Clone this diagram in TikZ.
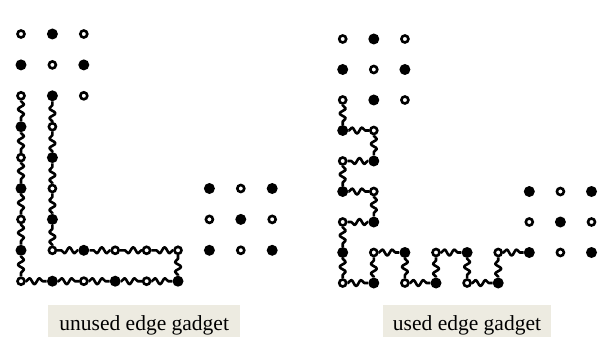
\documentclass[tikz,border=0pt]{standalone}
\usepackage{fontspec}
\setmainfont{Liberation Serif}
\usetikzlibrary{decorations.pathmorphing}
\definecolor{labelbg}{HTML}{EDEBE1}
\tikzset{
  fdot/.style={circle, fill=black, inner sep=0pt, minimum size=11pt},
  odot/.style={circle, draw=black, fill=white, line width=2.6pt, inner sep=0pt, minimum size=7pt},
  wavy/.style={line width=2.6pt, line join=round, decorate,
    decoration={snake, segment length=10pt, amplitude=3pt, pre length=0.5pt, post length=0.5pt}},
  caption/.style={fill=labelbg, inner xsep=8pt, inner ysep=0pt, anchor=base,
    text height=25pt, text depth=6.7pt, font=\fontsize{21.5}{24}\selectfont},
}
\begin{document}
\begin{tikzpicture}[x=1pt, y=-1pt]
  \useasboundingbox (0,0) rectangle (609,339);

  % unused edge gadget
  \begin{scope}[shift={(21pt,-34pt)}, x=31.4pt, y=-30.9pt]
    \foreach \c/\r in {1/0,0/1,2/1,1/2,0/3,0/5,0/7,1/4,1/6,1/8,3/8,5/8,2/7,6/5,8/5,7/6,6/7,8/7}
      \node[fdot] (a-\c-\r) at (\c,\r) {};
    \foreach \c/\r in {0/0,2/0,1/1,0/2,2/2,0/4,0/6,0/8,1/3,1/5,1/7,2/8,4/8,3/7,4/7,5/7,7/5,6/6,8/6,7/7}
      \node[odot] (a-\c-\r) at (\c,\r) {};
    \foreach \p/\q/\s/\t in {0/2/0/3, 0/3/0/4, 0/4/0/5, 0/5/0/6, 0/6/0/7, 0/7/0/8,
        0/8/1/8, 1/8/2/8, 2/8/3/8, 3/8/4/8, 4/8/5/8, 5/8/5/7,
        5/7/4/7, 4/7/3/7, 3/7/2/7, 2/7/1/7,
        1/7/1/6, 1/6/1/5, 1/5/1/4, 1/4/1/3, 1/3/1/2}
      \draw[wavy] (a-\p-\q) -- (a-\s-\t);
  \end{scope}

  % used edge gadget
  \begin{scope}[shift={(342.7pt,-39pt)}, x=31.1pt, y=-30.5pt]
    \foreach \c/\r in {1/0,0/1,2/1,1/2,0/3,0/5,0/7,1/4,1/6,1/8,2/7,3/8,4/7,5/8,6/5,8/5,7/6,6/7,8/7}
      \node[fdot] (b-\c-\r) at (\c,\r) {};
    \foreach \c/\r in {0/0,2/0,1/1,0/2,2/2,0/4,0/6,0/8,1/3,1/5,1/7,2/8,3/7,4/8,5/7,7/5,6/6,8/6,7/7}
      \node[odot] (b-\c-\r) at (\c,\r) {};
    \foreach \p/\q/\s/\t in {0/2/0/3, 0/3/1/3, 1/3/1/4, 1/4/0/4, 0/4/0/5, 0/5/1/5,
        1/5/1/6, 1/6/0/6, 0/6/0/7, 0/7/0/8, 0/8/1/8, 1/8/1/7, 1/7/2/7,
        2/7/2/8, 2/8/3/8, 3/8/3/7, 3/7/4/7, 4/7/4/8, 4/8/5/8, 5/8/5/7, 5/7/6/7}
      \draw[wavy] (b-\p-\q) -- (b-\s-\t);
  \end{scope}

  \node[caption, minimum width=191.7pt] (capa) at (144.2,330) {unused edge gadget};
  \node[caption, minimum width=167.4pt] (capb) at (467,330) {used edge gadget};
\end{tikzpicture}
\end{document}
